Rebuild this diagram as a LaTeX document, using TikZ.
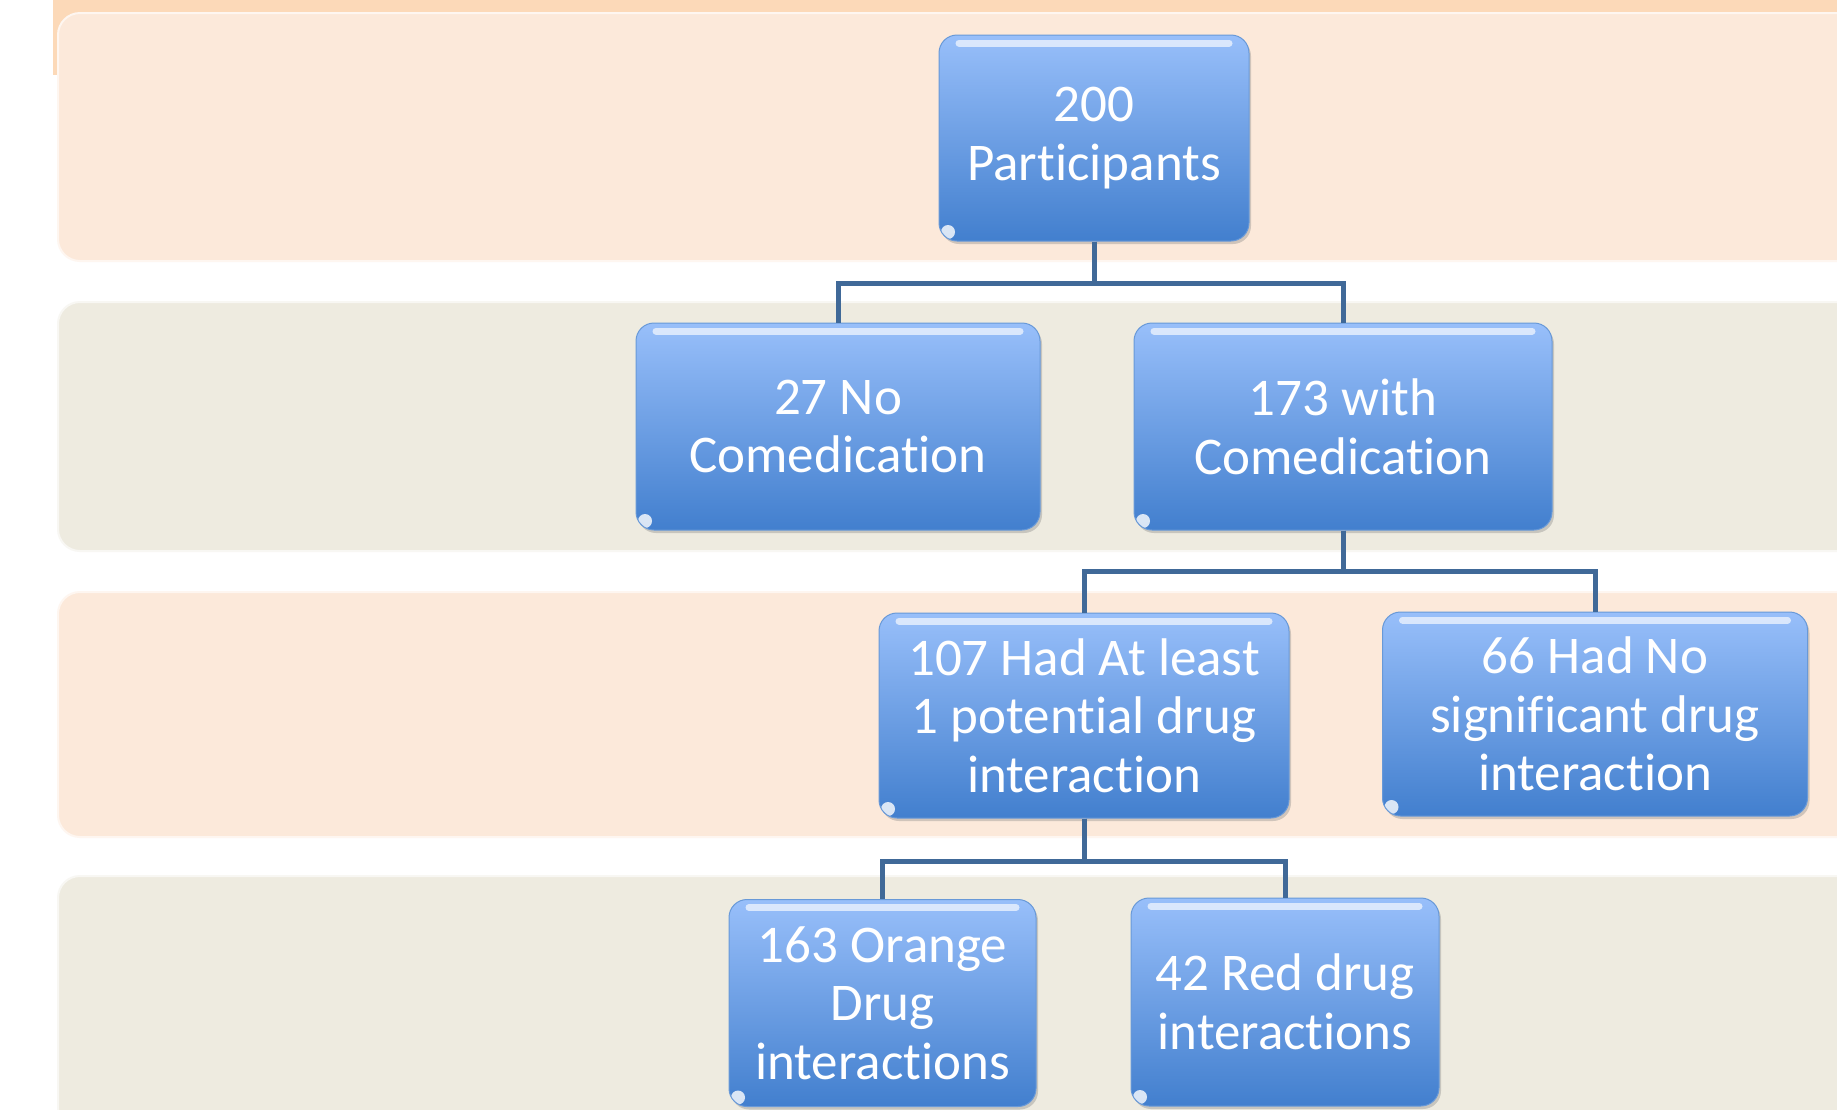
\documentclass[tikz,border=0pt]{standalone}
\usepackage{fontspec}
\setmainfont{Carlito}[Ligatures=NoCommon]
\usetikzlibrary{shadows}
\definecolor{strip}{RGB}{252,217,184}
\definecolor{peach}{RGB}{252,233,218}
\definecolor{beige}{RGB}{238,235,224}
\definecolor{boxtop}{RGB}{152,191,250}
\definecolor{boxbot}{RGB}{66,127,206}
\definecolor{conncol}{RGB}{64,105,152}
\tikzset{
  band/.style={rounded corners=22pt, line width=2pt},
  boxnode/.style={rectangle, rounded corners=18pt, top color=boxtop, bottom color=boxbot,
    draw=boxbot!80!white, line width=1pt, text=white, align=center,
    font=\fontsize{53}{58.6}\selectfont, inner sep=0pt,
    drop shadow={opacity=0.35, shadow xshift=2pt, shadow yshift=-3pt},
    path picture={
      \draw[white, opacity=0.65, line width=7pt, line cap=round]
        ([xshift=20pt,yshift=-8pt]path picture bounding box.north west) --
        ([xshift=-20pt,yshift=-8pt]path picture bounding box.north east);
      \fill[white, opacity=0.8]
        ([xshift=9pt,yshift=9pt]path picture bounding box.south west) circle (7pt);
    }},
  conn/.style={draw=conncol, line width=5pt}
}
\begin{document}
\begin{tikzpicture}[x=1pt, y=-1pt]
\useasboundingbox (0,0) rectangle (1837,1109);
\clip (0,0) rectangle (1837,1109);
\fill[white] (0,0) rectangle (1837,1109);
% background bands
\fill[strip] (53,0) rectangle (1900,75);
\filldraw[band, fill=peach, draw=peach!40!white] (58,13) rectangle (1920,261);
\filldraw[band, fill=beige, draw=beige!40!white] (58,302) rectangle (1920,551);
\filldraw[band, fill=peach, draw=peach!40!white] (58,592) rectangle (1920,837);
\filldraw[band, fill=beige, draw=beige!40!white] (58,876) rectangle (1920,1160);
% boxes
\node[boxnode, minimum width=310pt, minimum height=206pt] (p) at (1094,138) {200\\Participants};
\node[boxnode, minimum width=404pt, minimum height=207pt] (n27) at (838,426.5) {27 No\\Comedication};
\node[boxnode, minimum width=418pt, minimum height=207pt] (c173) at (1343,426.5) {173 with\\Comedication};
\node[boxnode, minimum width=410pt, minimum height=205pt] (d107) at (1084,715.5) {107 Had At least\\1 potential drug\\interaction};
\node[boxnode, minimum width=425pt, minimum height=204pt] (d66) at (1595,714) {66 Had No\\significant drug\\interaction};
\node[boxnode, minimum width=307pt, minimum height=207pt] (o163) at (882.5,1003) {163 Orange\\Drug\\interactions};
\node[boxnode, minimum width=308pt, minimum height=208pt] (r42) at (1285,1002) {42 Red drug\\interactions};
% connectors
\draw[conn] (p.south) -- ++(0,42) -| (n27.north);
\draw[conn] (p.south) -- ++(0,42) -| (c173.north);
\draw[conn] (c173.south) -- ++(0,41) -| (d107.north);
\draw[conn] (c173.south) -- ++(0,41) -| (d66.north);
\draw[conn] (d107.south) -- ++(0,43) -| (o163.north);
\draw[conn] (d107.south) -- ++(0,43) -| (r42.north);
\end{tikzpicture}
\end{document}
